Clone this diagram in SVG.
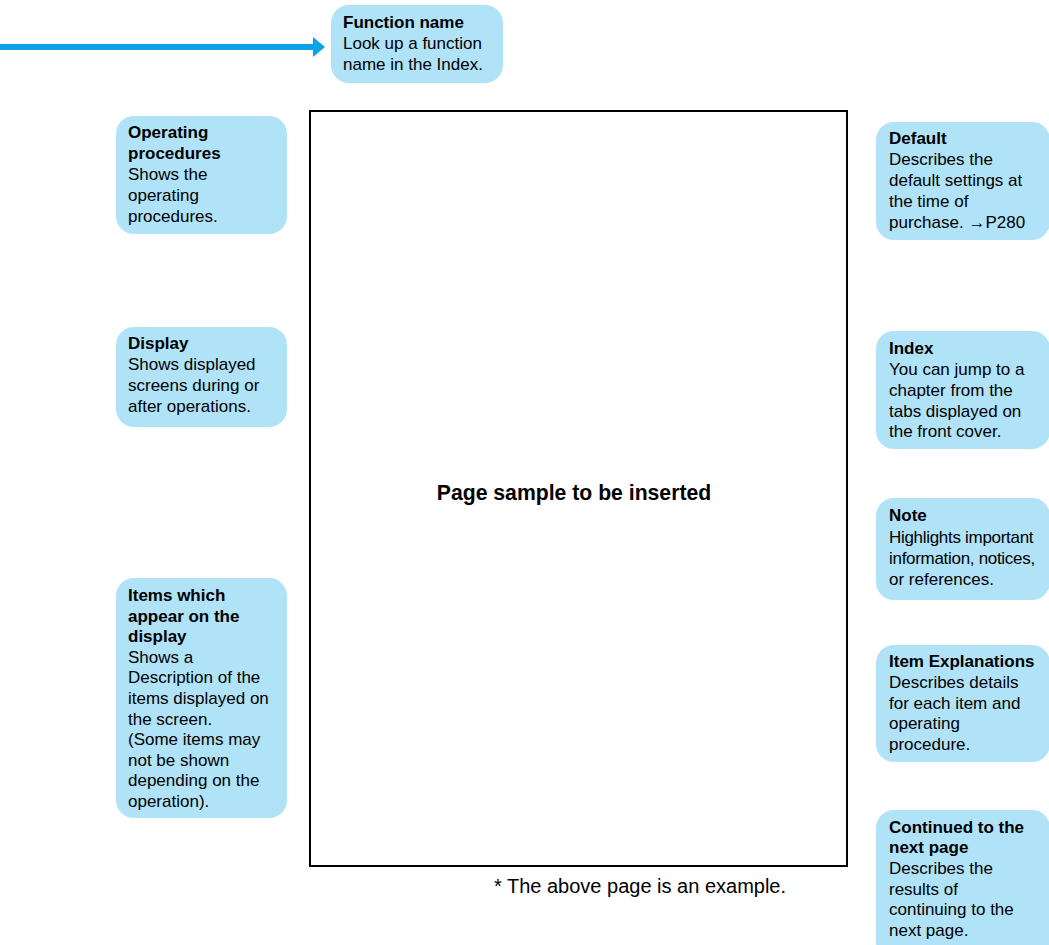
<svg xmlns="http://www.w3.org/2000/svg" width="1049" height="945" viewBox="0 0 1049 945">
<style>
.box{fill:#b0e3f8;}
text{font-family:"Liberation Sans",Arial,Helvetica,sans-serif;font-size:17px;fill:#000;}
.t{font-weight:bold;}
.page{fill:#fff;stroke:#000;stroke-width:2;}
.big{font-size:21.2px;font-weight:bold;}
.foot{font-size:20px;}
</style>
<defs>
<marker id="ah" markerWidth="12" markerHeight="22" refX="1" refY="11" orient="auto" markerUnits="userSpaceOnUse">
<path d="M0,1 L12,11 L0,21 Z" fill="#0ba2e8"/>
</marker>
</defs>
<rect x="0" y="0" width="1049" height="945" fill="#fff"/>
<g id="connectors">
<line x1="0" y1="47" x2="314" y2="47" stroke="#0ba2e8" stroke-width="6" marker-end="url(#ah)"/>
</g>
<g id="page">
<rect class="page" x="310" y="111" width="537" height="755"/>
<text class="big" x="574" y="500" text-anchor="middle">Page sample to be inserted</text>
</g>
<text class="foot" x="494" y="893">* The above page is an example.</text>
<g id="function-name">
<rect class="box" x="331" y="5" width="172" height="78" rx="18"/>
<text x="343"><tspan class="t" x="343" y="28">Function name</tspan><tspan x="343" y="49">Look up a function</tspan><tspan x="343" y="70">name in the Index.</tspan></text>
</g>
<g id="operating-procedures">
<rect class="box" x="116" y="116" width="171" height="118" rx="18"/>
<text><tspan class="t" x="128" y="138">Operating</tspan><tspan class="t" x="128" y="159">procedures</tspan><tspan x="128" y="180">Shows the</tspan><tspan x="128" y="201">operating</tspan><tspan x="128" y="222">procedures.</tspan></text>
</g>
<g id="display">
<rect class="box" x="116" y="327" width="171" height="100" rx="18"/>
<text><tspan class="t" x="128" y="349">Display</tspan><tspan x="128" y="370">Shows displayed</tspan><tspan x="128" y="391">screens during or</tspan><tspan x="128" y="412">after operations.</tspan></text>
</g>
<g id="items-display">
<rect class="box" x="116" y="578" width="171" height="240" rx="18"/>
<text><tspan class="t" x="128" y="601">Items which</tspan><tspan class="t" x="128" y="622">appear on the</tspan><tspan class="t" x="128" y="642">display</tspan><tspan x="128" y="663">Shows a</tspan><tspan x="128" y="683">Description of the</tspan><tspan x="128" y="704">items displayed on</tspan><tspan x="128" y="725">the screen.</tspan><tspan x="128" y="745">(Some items may</tspan><tspan x="128" y="766">not be shown</tspan><tspan x="128" y="786">depending on the</tspan><tspan x="128" y="807">operation).</tspan></text>
</g>
<g id="default">
<rect class="box" x="876" y="122" width="174" height="118" rx="18"/>
<text><tspan class="t" x="889" y="144">Default</tspan><tspan x="889" y="165">Describes the</tspan><tspan x="889" y="186">default settings at</tspan><tspan x="889" y="207">the time of</tspan><tspan x="889" y="228">purchase. →P280</tspan></text>
</g>
<g id="index">
<rect class="box" x="876" y="331" width="174" height="118" rx="18"/>
<text><tspan class="t" x="889" y="354">Index</tspan><tspan x="889" y="375">You can jump to a</tspan><tspan x="889" y="396">chapter from the</tspan><tspan x="889" y="417">tabs displayed on</tspan><tspan x="889" y="437">the front cover.</tspan></text>
</g>
<g id="note">
<rect class="box" x="876" y="498" width="174" height="102" rx="18"/>
<text><tspan class="t" x="889" y="521">Note</tspan><tspan x="889" y="543" letter-spacing="-0.3">Highlights important</tspan><tspan x="889" y="564" letter-spacing="-0.3">information, notices,</tspan><tspan x="889" y="585">or references.</tspan></text>
</g>
<g id="item-explanations">
<rect class="box" x="876" y="645" width="174" height="117" rx="18"/>
<text><tspan class="t" x="889" y="667">Item Explanations</tspan><tspan x="889" y="688">Describes details</tspan><tspan x="889" y="709">for each item and</tspan><tspan x="889" y="729">operating</tspan><tspan x="889" y="750">procedure.</tspan></text>
</g>
<g id="continued">
<rect class="box" x="876" y="810" width="174" height="150" rx="18"/>
<text><tspan class="t" x="889" y="833">Continued to the</tspan><tspan class="t" x="889" y="853">next page</tspan><tspan x="889" y="874">Describes the</tspan><tspan x="889" y="895">results of</tspan><tspan x="889" y="915">continuing to the</tspan><tspan x="889" y="936">next page.</tspan></text>
</g>
</svg>
